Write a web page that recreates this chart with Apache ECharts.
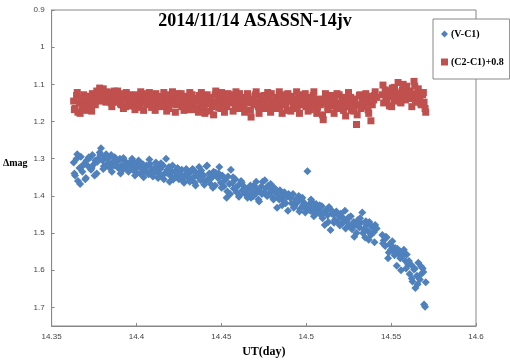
<!DOCTYPE html>
<html>
<head>
<meta charset="utf-8">
<script src="https://cdn.jsdelivr.net/npm/echarts@6/dist/echarts.min.js"></script>
<style>
  html, body { margin: 0; padding: 0; background: #fff; }
  #chart { width: 510px; height: 363px; }
</style>
</head>
<body>
<div id="chart"></div>
<script>
// UT (day) of each frame, shared by both light curves.
// Second block = the frames in between, read on a second pass.
const ut = [
  14.3630, 14.3638, 14.3647, 14.3655, 14.3664, 14.3672, 14.3681, 14.3689, 14.3698, 14.3706,
  14.3715, 14.3723, 14.3732, 14.3740, 14.3749, 14.3757, 14.3766, 14.3774, 14.3783, 14.3791,
  14.3800, 14.3808, 14.3817, 14.3825, 14.3834, 14.3842, 14.3851, 14.3859, 14.3868, 14.3876,
  14.3885, 14.3893, 14.3902, 14.3910, 14.3919, 14.3927, 14.3936, 14.3944, 14.3953, 14.3961,
  14.3970, 14.3978, 14.3987, 14.3995, 14.4004, 14.4012, 14.4021, 14.4029, 14.4038, 14.4046,
  14.4055, 14.4063, 14.4072, 14.4080, 14.4089, 14.4097, 14.4106, 14.4114, 14.4123, 14.4131,
  14.4140, 14.4148, 14.4157, 14.4165, 14.4174, 14.4182, 14.4191, 14.4199, 14.4208, 14.4216,
  14.4225, 14.4233, 14.4242, 14.4250, 14.4259, 14.4267, 14.4276, 14.4284, 14.4293, 14.4301,
  14.4310, 14.4318, 14.4327, 14.4335, 14.4344, 14.4352, 14.4361, 14.4369, 14.4378, 14.4386,
  14.4395, 14.4403, 14.4412, 14.4420, 14.4429, 14.4437, 14.4446, 14.4454, 14.4463, 14.4471,
  14.4480, 14.4488, 14.4497, 14.4505, 14.4514, 14.4522, 14.4531, 14.4539, 14.4548, 14.4556,
  14.4565, 14.4573, 14.4582, 14.4590, 14.4599, 14.4607, 14.4616, 14.4624, 14.4633, 14.4641,
  14.4650, 14.4658, 14.4667, 14.4675, 14.4684, 14.4692, 14.4701, 14.4709, 14.4718, 14.4726,
  14.4735, 14.4743, 14.4752, 14.4760, 14.4769, 14.4777, 14.4786, 14.4794, 14.4803, 14.4811,
  14.4820, 14.4828, 14.4837, 14.4845, 14.4854, 14.4862, 14.4871, 14.4879, 14.4888, 14.4896,
  14.4905, 14.4913, 14.4922, 14.4930, 14.4939, 14.4947, 14.4956, 14.4964, 14.4973, 14.4981,
  14.4990, 14.4998, 14.5007, 14.5015, 14.5024, 14.5032, 14.5041, 14.5049, 14.5058, 14.5066,
  14.5075, 14.5083, 14.5092, 14.5100, 14.5109, 14.5117, 14.5126, 14.5134, 14.5143, 14.5151,
  14.5160, 14.5168, 14.5177, 14.5185, 14.5194, 14.5202, 14.5211, 14.5219, 14.5228, 14.5236,
  14.5245, 14.5253, 14.5262, 14.5270, 14.5279, 14.5287, 14.5296, 14.5304, 14.5313, 14.5321,
  14.5330, 14.5338, 14.5347, 14.5355, 14.5364, 14.5372, 14.5381, 14.5389, 14.5398, 14.5406,
  14.5415, 14.5448, 14.5456, 14.5465, 14.5473, 14.5482, 14.5490, 14.5499, 14.5507, 14.5516,
  14.5524, 14.5533, 14.5541, 14.5550, 14.5558, 14.5567, 14.5575, 14.5584, 14.5592, 14.5601,
  14.5609, 14.5618, 14.5626, 14.5635, 14.5643, 14.5652, 14.5660, 14.5669, 14.5677, 14.5686,
  14.5694, 14.5700, 14.5704,
  14.3634, 14.3651, 14.3668, 14.3685, 14.3702, 14.3719, 14.3736, 14.3753, 14.3770, 14.3787,
  14.3804, 14.3821, 14.3838, 14.3855, 14.3872, 14.3889, 14.3906, 14.3923, 14.3940, 14.3957,
  14.3974, 14.3991, 14.4008, 14.4025, 14.4042, 14.4059, 14.4076, 14.4093, 14.4110, 14.4127,
  14.4144, 14.4161, 14.4178, 14.4195, 14.4212, 14.4229, 14.4246, 14.4263, 14.4280, 14.4297,
  14.4314, 14.4331, 14.4348, 14.4365, 14.4382, 14.4399, 14.4416, 14.4433, 14.4450, 14.4467,
  14.4484, 14.4501, 14.4518, 14.4535, 14.4552, 14.4569, 14.4586, 14.4603, 14.4620, 14.4637,
  14.4654, 14.4671, 14.4688, 14.4705, 14.4722, 14.4739, 14.4756, 14.4773, 14.4790, 14.4807,
  14.4824, 14.4841, 14.4858, 14.4875, 14.4892, 14.4909, 14.4926, 14.4943, 14.4960, 14.4977,
  14.4994, 14.5011, 14.5028, 14.5045, 14.5062, 14.5079, 14.5096, 14.5113, 14.5130, 14.5147,
  14.5164, 14.5181, 14.5198, 14.5215, 14.5232, 14.5249, 14.5266, 14.5283, 14.5300, 14.5317,
  14.5334, 14.5351, 14.5368, 14.5385, 14.5402, 14.5452, 14.5469, 14.5486, 14.5503, 14.5520,
  14.5537, 14.5554, 14.5571, 14.5588, 14.5605, 14.5622, 14.5639, 14.5656, 14.5673, 14.5690
];

// (V-C1)
const vMinusC1 = [
  1.310, 1.345, 1.300, 1.360, 1.325, 1.295, 1.335, 1.315, 1.355, 1.305,
  1.320, 1.298, 1.330, 1.290, 1.315, 1.305, 1.340, 1.300, 1.283, 1.272,
  1.305, 1.320, 1.295, 1.315, 1.300, 1.325, 1.290, 1.310, 1.318, 1.302,
  1.308, 1.325, 1.300, 1.318, 1.330, 1.305, 1.322, 1.312, 1.335, 1.310,
  1.318, 1.330, 1.310, 1.335, 1.322, 1.305, 1.340, 1.325, 1.315, 1.332,
  1.335, 1.320, 1.342, 1.315, 1.330, 1.348, 1.325, 1.310, 1.338, 1.322,
  1.328, 1.345, 1.318, 1.340, 1.300, 1.330, 1.322, 1.345, 1.335, 1.356,
  1.335, 1.348, 1.325, 1.355, 1.340, 1.330, 1.360, 1.345, 1.328, 1.350,
  1.340, 1.355, 1.330, 1.350, 1.365, 1.338, 1.348, 1.322, 1.358, 1.342,
  1.345, 1.362, 1.320, 1.355, 1.340, 1.368, 1.350, 1.335, 1.372, 1.345,
  1.352, 1.322, 1.365, 1.345, 1.375, 1.358, 1.405, 1.348, 1.368, 1.330,
  1.365, 1.380, 1.355, 1.390, 1.372, 1.398, 1.360, 1.385, 1.375, 1.395,
  1.385, 1.398, 1.378, 1.405, 1.390, 1.372, 1.395, 1.382, 1.410, 1.388,
  1.375, 1.362, 1.390, 1.380, 1.400, 1.372, 1.392, 1.385, 1.405, 1.378,
  1.392, 1.432, 1.405, 1.385, 1.398, 1.412, 1.390, 1.420, 1.402, 1.395,
  1.405, 1.420, 1.395, 1.428, 1.410, 1.418, 1.400, 1.435, 1.412, 1.425,
  1.420, 1.435, 1.334, 1.425, 1.440, 1.415, 1.432, 1.448, 1.422, 1.438,
  1.435, 1.450, 1.428, 1.445, 1.478, 1.438, 1.452, 1.430, 1.492, 1.448,
  1.450, 1.465, 1.442, 1.470, 1.455, 1.448, 1.475, 1.460, 1.440, 1.468,
  1.462, 1.480, 1.455, 1.490, 1.470, 1.478, 1.500, 1.465, 1.485, 1.472,
  1.445, 1.490, 1.512, 1.478, 1.495, 1.470, 1.505, 1.485, 1.498, 1.478,
  1.488, 1.505, 1.520, 1.535, 1.512, 1.568, 1.530, 1.545, 1.522, 1.550,
  1.540, 1.588, 1.555, 1.548, 1.600, 1.562, 1.545, 1.575, 1.558, 1.585,
  1.610, 1.585, 1.630, 1.598, 1.648, 1.615, 1.580, 1.625, 1.590, 1.595,
  1.692, 1.698, 1.632,
  1.340, 1.288, 1.368, 1.318, 1.352, 1.296, 1.325, 1.345, 1.308, 1.290,
  1.328, 1.288, 1.312, 1.335, 1.296, 1.322, 1.340, 1.298, 1.318, 1.328,
  1.300, 1.345, 1.322, 1.312, 1.350, 1.318, 1.302, 1.342, 1.328, 1.352,
  1.312, 1.355, 1.338, 1.362, 1.318, 1.350, 1.328, 1.345, 1.365, 1.332,
  1.362, 1.328, 1.372, 1.345, 1.332, 1.370, 1.318, 1.355, 1.378, 1.338,
  1.340, 1.378, 1.352, 1.388, 1.395, 1.350, 1.378, 1.402, 1.365, 1.385,
  1.405, 1.372, 1.400, 1.362, 1.415, 1.395, 1.358, 1.398, 1.368, 1.410,
  1.385, 1.410, 1.425, 1.398, 1.440, 1.402, 1.432, 1.415, 1.442, 1.405,
  1.445, 1.428, 1.410, 1.455, 1.445, 1.425, 1.460, 1.442, 1.470, 1.438,
  1.472, 1.448, 1.480, 1.462, 1.488, 1.458, 1.482, 1.510, 1.475, 1.460,
  1.500, 1.468, 1.518, 1.482, 1.525, 1.528, 1.510, 1.552, 1.535, 1.560,
  1.542, 1.568, 1.552, 1.595, 1.575, 1.622, 1.595, 1.638, 1.612, 1.605
];

// (C2-C1)+0.8
const c2MinusC1 = [
  1.145, 1.165, 1.130, 1.175, 1.150, 1.138, 1.160, 1.128, 1.155, 1.170,
  1.148, 1.132, 1.160, 1.125, 1.142, 1.155, 1.118, 1.138, 1.110, 1.128,
  1.115, 1.130, 1.145, 1.120, 1.138, 1.125, 1.150, 1.132, 1.118, 1.140,
  1.135, 1.148, 1.125, 1.155, 1.140, 1.130, 1.160, 1.138, 1.145, 1.128,
  1.150, 1.135, 1.158, 1.128, 1.145, 1.140, 1.162, 1.132, 1.148, 1.125,
  1.140, 1.155, 1.130, 1.148, 1.162, 1.135, 1.145, 1.125, 1.152, 1.138,
  1.132, 1.150, 1.140, 1.158, 1.128, 1.145, 1.165, 1.138, 1.150, 1.130,
  1.142, 1.155, 1.125, 1.148, 1.138, 1.160, 1.132, 1.150, 1.145, 1.168,
  1.135, 1.150, 1.128, 1.158, 1.142, 1.138, 1.165, 1.130, 1.148, 1.155,
  1.140, 1.178, 1.130, 1.152, 1.145, 1.135, 1.160, 1.182, 1.128, 1.148,
  1.138, 1.155, 1.165, 1.130, 1.148, 1.142, 1.160, 1.125, 1.150, 1.135,
  1.145, 1.130, 1.158, 1.140, 1.152, 1.125, 1.148, 1.138, 1.162, 1.135,
  1.150, 1.132, 1.145, 1.188, 1.140, 1.155, 1.128, 1.148, 1.160, 1.138,
  1.142, 1.155, 1.130, 1.150, 1.165, 1.138, 1.148, 1.125, 1.158, 1.145,
  1.135, 1.150, 1.142, 1.160, 1.128, 1.148, 1.138, 1.155, 1.170, 1.140,
  1.145, 1.132, 1.158, 1.140, 1.150, 1.165, 1.135, 1.148, 1.155, 1.128,
  1.142, 1.160, 1.150, 1.135, 1.168, 1.145, 1.130, 1.155, 1.148, 1.162,
  1.140, 1.155, 1.145, 1.195, 1.150, 1.135, 1.162, 1.148, 1.130, 1.158,
  1.145, 1.138, 1.165, 1.150, 1.128, 1.155, 1.142, 1.170, 1.135, 1.160,
  1.148, 1.160, 1.135, 1.152, 1.172, 1.140, 1.208, 1.155, 1.130, 1.165,
  1.145, 1.158, 1.138, 1.150, 1.168, 1.132, 1.198, 1.155, 1.142, 1.120,
  1.135, 1.128, 1.150, 1.115, 1.140, 1.125, 1.158, 1.132, 1.110, 1.145,
  1.120, 1.140, 1.095, 1.132, 1.150, 1.115, 1.128, 1.142, 1.105, 1.135,
  1.118, 1.138, 1.125, 1.092, 1.148, 1.130, 1.112, 1.140, 1.155, 1.128,
  1.148, 1.165, 1.175,
  1.168, 1.122, 1.178, 1.140, 1.162, 1.135, 1.172, 1.150, 1.125, 1.145,
  1.112, 1.148, 1.122, 1.160, 1.145, 1.118, 1.152, 1.165, 1.122, 1.158,
  1.130, 1.168, 1.142, 1.120, 1.170, 1.150, 1.122, 1.158, 1.170, 1.145,
  1.160, 1.122, 1.172, 1.152, 1.120, 1.175, 1.145, 1.125, 1.170, 1.152,
  1.122, 1.168, 1.145, 1.175, 1.122, 1.160, 1.128, 1.172, 1.150, 1.118,
  1.162, 1.122, 1.175, 1.150, 1.128, 1.172, 1.120, 1.165, 1.145, 1.175,
  1.125, 1.170, 1.150, 1.120, 1.178, 1.132, 1.165, 1.122, 1.175, 1.150,
  1.165, 1.120, 1.178, 1.150, 1.125, 1.172, 1.140, 1.120, 1.178, 1.152,
  1.125, 1.172, 1.158, 1.120, 1.178, 1.140, 1.182, 1.125, 1.168, 1.150,
  1.178, 1.125, 1.165, 1.148, 1.185, 1.122, 1.170, 1.140, 1.182, 1.128,
  1.160, 1.125, 1.178, 1.145, 1.130, 1.102, 1.142, 1.118, 1.160, 1.108,
  1.125, 1.148, 1.100, 1.138, 1.120, 1.160, 1.105, 1.135, 1.150, 1.122
];

const seriesNames = ["(V-C1)", "(C2-C1)+0.8"];
const serif = "'Liberation Serif', 'Times New Roman', serif";
const sans = "'Liberation Sans', Arial, sans-serif";

const chart = echarts.init(document.getElementById("chart"));

chart.setOption({
  animation: false,
  backgroundColor: "#fff",
  title: {
    text: "2014/11/14 ASASSN-14jv",
    left: "center",
    top: 7,
    textStyle: { fontFamily: serif, fontWeight: "bold", fontSize: 18, color: "#000" },
  },
  legend: {
    orient: "vertical",
    left: 433,
    top: 19,
    padding: [10, 6, 12, 8],
    itemGap: 18,
    itemWidth: 7,
    itemHeight: 7,
    backgroundColor: "#fff",
    borderColor: "#888",
    borderWidth: 1,
    textStyle: { fontFamily: serif, fontWeight: "bold", fontSize: 10, color: "#000", padding: [0, 0, 0, -2] },
    data: [
      { name: seriesNames[0], icon: "diamond" },
      { name: seriesNames[1], icon: "rect" },
    ],
  },
  grid: { left: 40, right: 34, top: 10, bottom: 36, show: true, borderColor: "#888", borderWidth: 1 },
  xAxis: {
    type: "value",
    min: 14.35,
    max: 14.6,
    interval: 0.05,
    name: "UT(day)",
    nameLocation: "middle",
    nameGap: 20,
    nameTextStyle: { fontFamily: serif, fontWeight: "bold", fontSize: 12, color: "#000" },
    axisLine: { lineStyle: { color: "#888" } },
    axisTick: { inside: true, length: 3, lineStyle: { color: "#888" } },
    axisLabel: { fontFamily: sans, fontSize: 8, color: "#444", margin: 7 },
    splitLine: { show: false },
  },
  yAxis: {
    type: "value",
    inverse: true,
    min: 0.9,
    max: 1.75,
    interval: 0.1,
    name: "Δmag",
    nameLocation: "middle",
    nameRotate: 0,
    nameGap: 4,
    nameTextStyle: { fontFamily: serif, fontWeight: "bold", fontSize: 10, color: "#000", verticalAlign: "bottom" },
    axisLine: { show: true, lineStyle: { color: "#888" } },
    axisTick: { show: true, inside: true, length: 3, lineStyle: { color: "#888" } },
    axisLabel: { fontFamily: sans, fontSize: 8, color: "#444", margin: 7, showMaxLabel: false },
    splitLine: { show: false },
  },
  series: [
    {
      name: seriesNames[0],
      type: "scatter",
      symbol: "diamond",
      symbolSize: 8,
      itemStyle: { color: "#4f81bd", opacity: 1 },
      data: ut.map((t, i) => [t, vMinusC1[i]]),
    },
    {
      name: seriesNames[1],
      type: "scatter",
      symbol: "rect",
      symbolSize: 7,
      itemStyle: { color: "#c0504d", opacity: 1 },
      data: ut.map((t, i) => [t, c2MinusC1[i]]),
    },
  ],
});
</script>
</body>
</html>
